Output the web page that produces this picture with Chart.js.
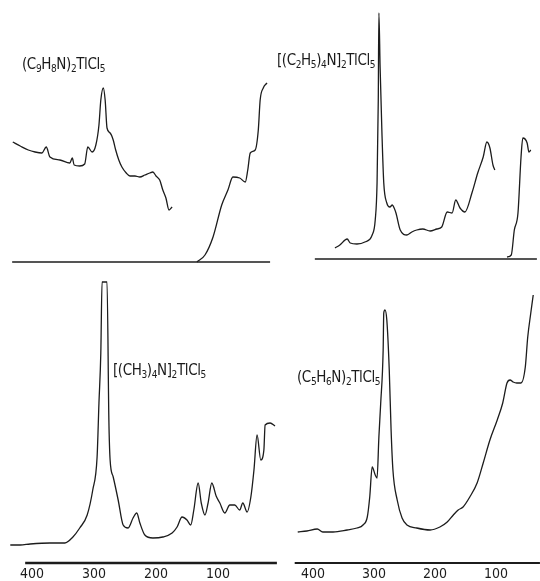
<!DOCTYPE html>
<html lang="en">
<head>
    <meta charset="UTF-8">
    <title>Raman spectra of TlCl5 salts</title>
    <script src="https://cdn.jsdelivr.net/npm/chart.js"></script>
    <style>
        body { margin: 0; background: #fff; }
        #page { position: relative; width: 540px; height: 581px; overflow: hidden; background: #fff; }
        canvas { position: absolute; }
        .lbl {
            position: absolute;
            font-family: "Liberation Sans Narrow", "DejaVu Sans Condensed", "DejaVu Sans", sans-serif;
            font-size: 15px;
            line-height: 16px;
            letter-spacing: -0.4px;
            color: #1a1a1a;
            white-space: nowrap;
        }
        .lbl sub { font-size: 10px; vertical-align: -3px; line-height: 0; }
    </style>
</head>
<body>
<div id="page">
    <canvas id="tl" width="280" height="270" style="left:0;top:0"></canvas>
    <canvas id="tr" width="260" height="270" style="left:280px;top:0"></canvas>
    <canvas id="bl" width="280" height="311" style="left:0;top:270px"></canvas>
    <canvas id="br" width="260" height="311" style="left:280px;top:270px"></canvas>

    <div class="lbl" style="left:22px;top:56px">(C<sub>9</sub>H<sub>8</sub>N)<sub>2</sub>TlCl<sub>5</sub></div>
    <div class="lbl" style="left:277px;top:52px">[(C<sub>2</sub>H<sub>5</sub>)<sub>4</sub>N]<sub>2</sub>TlCl<sub>5</sub></div>
    <div class="lbl" style="left:113px;top:362px">[(CH<sub>3</sub>)<sub>4</sub>N]<sub>2</sub>TlCl<sub>5</sub></div>
    <div class="lbl" style="left:297px;top:369px">(C<sub>5</sub>H<sub>6</sub>N)<sub>2</sub>TlCl<sub>5</sub></div>
</div>

<script>
// wavenumber ticks (cm-1), shown under the lower panels
const tickValues = [400, 300, 200, 100];

// (C9H8N)2TlCl5 - two recorder traces
const tlWave1 = [431, 419, 406, 395, 384, 377, 371, 355, 339, 335, 332, 323, 315, 310, 303, 297, 292, 289, 285, 282, 279, 274, 269, 265, 260, 255, 248, 242, 234, 226, 218, 210, 205, 200, 194, 189, 184, 179, 174];
const tlInt1  = [120, 116, 112, 110, 109, 115, 105, 102,  99, 104,  97,  96,  98, 115, 110, 117, 137, 162, 174, 162, 134, 129, 122, 112, 102,  95,  89,  86,  86,  85,  87,  89,  90,  86,  82,  72,  64,  52,  55];
const tlWave2 = [134, 121, 108, 94, 84, 76, 65, 56, 52, 48, 40, 35, 32, 27, 21];
const tlInt2  = [0, 7, 25, 57, 72, 85, 84, 80, 92, 109, 112, 132, 162, 174, 179];
const tlBase  = [432, 16];

// [(C2H5)4N]2TlCl5
const trWave1 = [364, 356, 344, 339, 328, 315, 303, 298, 295, 293, 292, 290, 287, 284, 279, 274, 270, 267, 264, 257, 246, 238, 230, 220, 208, 197, 189, 180, 172, 166, 159, 151, 139, 130, 121, 115, 110, 105, 102];
const trInt1  = [ 11,  14,  20,  16,  15,  17,  24,  39,  76, 159, 246, 192, 126,  76,  56,  52,  54,  51,  46,  29,  24,  27,  29,  30,  28,  30,  32,  47,  46,  59,  51,  47,  67,  86, 102, 117, 111,  94,  89];
const trWave2 = [82, 75, 70, 64, 59, 56, 49, 46, 43];
const trInt2  = [2, 4, 29, 46, 102, 121, 116, 107, 109];
const trBase  = [397, 33];

// [(CH3)4N]2TlCl5 (main band off scale)
const blWave = [435, 419, 403, 371, 347, 334, 323, 311, 302, 295, 292, 289, 287, 279, 276, 274, 269, 261, 253, 245, 237, 231, 226, 218, 205, 189, 174, 166, 158, 150, 144, 139, 132, 127, 121, 116, 110, 103, 97, 89, 81, 73, 65, 60, 53, 47, 42, 37, 31, 26, 24, 16, 8];
const blInt  = [ 18,  18,  19,  20,  20,  26,  35,  48,  73, 106, 160, 210, 281, 281, 143, 103,  86,  63,  38,  35,  45,  50,  40,  28,  25,  26,  30,  36,  46,  43,  38,  53,  80,  60,  48,  60,  80,  67, 60, 50, 58, 58, 53, 60, 51, 66, 93, 128, 103, 113, 138, 140, 137];
const blAxis = [411, 5];

// (C5H6N)2TlCl5
const brWave = [425, 410, 393, 384, 367, 344, 328, 318, 311, 307, 303, 298, 295, 292, 289, 285, 284, 282, 279, 275, 272, 269, 262, 254, 246, 230, 208, 192, 180, 170, 162, 154, 143, 131, 121, 110, 98, 89, 82, 77, 72, 66, 59, 52, 48, 43, 39];
const brInt  = [ 31,  32,  34,  31,  31,  33,  35,  38,  46,  66,  96,  88,  85, 126, 160, 213, 250, 253, 243, 193, 133,  93,  63,  45,  38,  35,  33,  36,  41,  48,  53,  56,  66,  80, 100, 123, 143, 160, 180, 183, 181, 180, 180, 196, 226, 250, 268];
const brAxis = [430, 28];

const ink = "#1c1c1c";
const tickFont = { family: "'Liberation Sans Narrow', 'DejaVu Sans Condensed', sans-serif", size: 14 };

function pts(w, v) {
    return w.map((x, i) => ({ x: x, y: v[i] }));
}

function trace(w, v, width) {
    return {
        data: pts(w, v),
        showLine: true,
        borderColor: ink,
        borderWidth: width || 1.3,
        pointRadius: 0,
        cubicInterpolationMode: "monotone",
        clip: false
    };
}

function flat(range, width) {
    return trace(range, [0, 0], width);
}

function makeChart(id, datasets, xMin, xMax, yMin, yMax, showTicks) {
    new Chart(document.getElementById(id), {
        type: "scatter",
        data: { datasets: datasets },
        options: {
            responsive: false,
            animation: false,
            events: [],
            layout: { padding: 0 },
            plugins: { legend: { display: false }, tooltip: { enabled: false } },
            scales: {
                x: {
                    type: "linear",
                    reverse: true,
                    min: xMin,
                    max: xMax,
                    display: showTicks,
                    grid: { display: false, drawTicks: false },
                    border: { display: false },
                    afterBuildTicks: s => { s.ticks = tickValues.map(v => ({ value: v })); },
                    afterFit: s => { s.height = showTicks ? 18 : 0; },
                    ticks: { color: ink, font: tickFont, padding: 3, maxRotation: 0, autoSkip: false }
                },
                y: { display: false, min: yMin, max: yMax }
            }
        }
    });
}

// upper panels: x range chosen so both columns share the lower panels' wavenumber scale
makeChart("tl", [flat(tlBase), trace(tlWave1, tlInt1), trace(tlWave2, tlInt2)], 0, 451.6, -8, 262, false);
makeChart("tr", [flat(trBase), trace(trWave1, trInt1), trace(trWave2, trInt2)], 27.9, 454.1, -11, 259, false);
makeChart("bl", [flat(blAxis, 2.4), trace(blWave, blInt)], 0, 451.6, 0, 293, true);
makeChart("br", [flat(brAxis, 2), trace(brWave, brInt)], 27.9, 454.1, 0, 293, true);
</script>
</body>
</html>
